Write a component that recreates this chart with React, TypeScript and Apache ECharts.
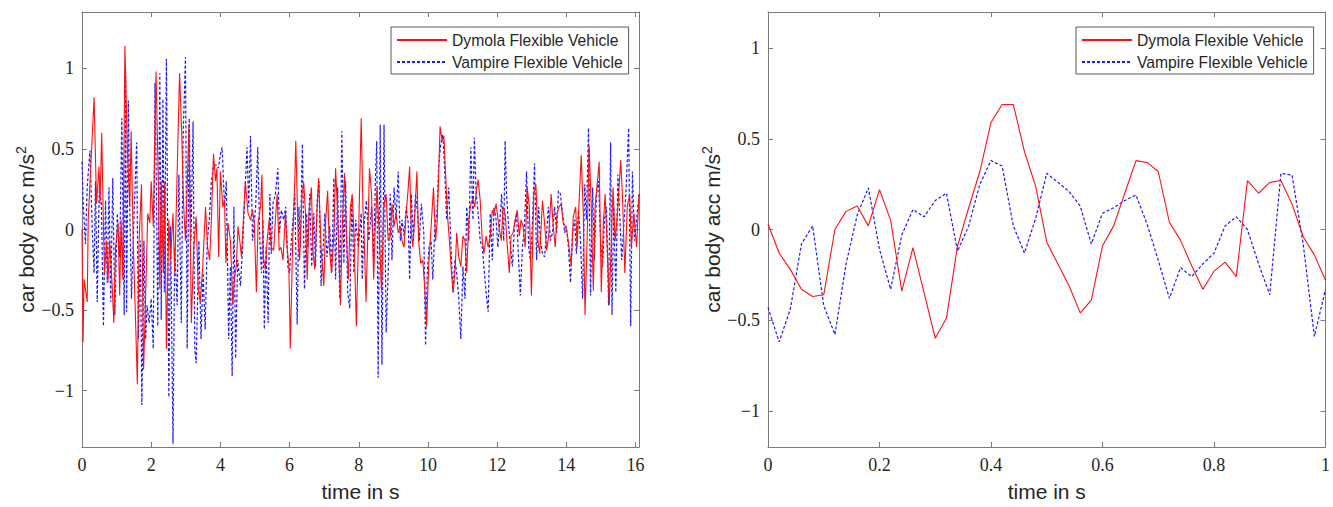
import React, { useEffect, useRef } from "react";
import * as echarts from "echarts";

// ---------- Data ----------
const seriesNames = ["Dymola Flexible Vehicle", "Vampire Flexible Vehicle"];
const xTitle = "time in s";
const yTitle = "car body acc m/s{sup|2}";

// Left panel: full run (time s, acceleration m/s^2)
const dymolaFull: [number, number][] = [
  [0, 0], [0.03, -0.7], [0.06, -0.31], [0.15, -0.45], [0.18, 0.06], [0.35, 0.82], [0.42, 0.16], [0.49, 0.39], [0.52, 0.16], [0.57, 0.6],
  [0.62, 0.02], [0.65, -0.27], [0.71, -0.07], [0.75, -0.33], [0.8, -0.07], [0.87, -0.34], [0.92, -0.58], [0.97, -0.11], [1.04, 0.04], [1.09, -0.41],
  [1.13, 0.06], [1.18, -0.31], [1.24, 1.14], [1.31, 0.51], [1.38, 0.14], [1.42, 0.61], [1.48, -0.07], [1.53, -0.43], [1.6, -0.96], [1.65, -0.07],
  [1.72, 0.28], [1.78, -0.87], [1.84, -0.41], [1.9, 0.1], [1.96, 0.04], [2.0, 0.3], [2.06, 0.02], [2.14, 0.98], [2.2, 0.36], [2.25, -0.37],
  [2.29, 0.3], [2.35, -0.27], [2.39, 0.3], [2.44, -0.74], [2.51, 0.06], [2.56, -0.19], [2.63, 0.1], [2.68, -0.27], [2.82, 0.97], [2.88, 0.61],
  [2.94, 0.14], [2.99, -0.07], [3.04, 0.26], [3.09, 0.65], [3.16, -0.58], [3.23, -0.11], [3.3, 0.08], [3.36, -0.37], [3.42, -0.45], [3.49, -0.23],
  [3.57, 0.14], [3.63, -0.11], [3.69, -0.19], [3.74, 0.06], [3.8, 0.47], [3.86, 0.3], [3.9, 0.38], [3.95, -0.17], [4.0, 0.36], [4.07, 0.14],
  [4.12, 0.18], [4.16, -0.21], [4.22, 0.04], [4.29, -0.07], [4.36, -0.47], [4.4, -0.31], [4.46, -0.23], [4.51, 0.02], [4.56, -0.07], [4.61, -0.17],
  [4.66, 0.04], [4.72, 0.3], [4.8, 0.1], [4.87, 0.06], [4.93, 0.12], [4.98, 0.04], [5.04, -0.39], [5.09, 0.04], [5.16, 0.14], [5.2, 0.34],
  [5.24, -0.17], [5.3, -0.25], [5.35, -0.07], [5.41, 0.06], [5.47, -0.11], [5.54, -0.13], [5.59, 0.06], [5.64, 0.22], [5.7, -0.13], [5.75, -0.11],
  [5.81, -0.19], [5.88, 0.1], [5.93, -0.11], [5.98, -0.23], [6.02, -0.74], [6.09, -0.07], [6.15, 0.3], [6.18, 0.55], [6.25, -0.07], [6.29, -0.19],
  [6.36, 0.22], [6.41, 0.29], [6.46, 0.1], [6.51, -0.31], [6.56, 0.1], [6.63, 0.26], [6.68, -0.15], [6.73, -0.25], [6.78, 0.06], [6.84, 0.32],
  [6.91, -0.11], [6.99, -0.35], [7.04, 0.04], [7.1, 0.24], [7.15, -0.11], [7.21, -0.27], [7.28, -0.04], [7.33, 0.38], [7.39, 0.1], [7.47, -0.47],
  [7.53, 0.06], [7.59, 0.35], [7.64, -0.02], [7.7, -0.31], [7.76, 0.14], [7.81, 0.22], [7.86, -0.02], [7.93, -0.6], [8.0, 0.02], [8.07, 0.69],
  [8.12, 0.14], [8.16, -0.07], [8.21, -0.45], [8.27, 0.04], [8.31, 0.38], [8.37, 0.22], [8.43, -0.31], [8.48, 0.04], [8.53, 0.26], [8.6, -0.07],
  [8.66, -0.39], [8.72, 0.14], [8.79, 0.22], [8.85, -0.07], [8.91, -0.04], [8.96, 0.16], [9.02, 0.02], [9.08, 0.1], [9.14, -0.02], [9.2, 0.02],
  [9.25, -0.07], [9.31, -0.11], [9.37, 0.1], [9.43, 0.26], [9.47, 0.39], [9.52, -0.02], [9.56, -0.11], [9.62, 0.1], [9.68, 0.36], [9.73, -0.07],
  [9.79, -0.21], [9.85, -0.19], [9.91, -0.37], [9.96, -0.6], [10.02, -0.23], [10.08, -0.02], [10.16, 0.26], [10.22, -0.07], [10.27, 0.06], [10.35, 0.64],
  [10.41, 0.55], [10.46, 0.58], [10.51, 0.34], [10.56, 0.1], [10.62, -0.07], [10.68, -0.27], [10.73, -0.39], [10.79, -0.23], [10.83, -0.02], [10.89, -0.17],
  [10.95, -0.23], [11.01, -0.04], [11.07, -0.07], [11.12, -0.27], [11.18, 0.06], [11.24, 0.16], [11.3, 0.19], [11.35, 0.14], [11.4, 0.24], [11.45, 0.31],
  [11.51, 0.18], [11.57, -0.07], [11.62, -0.15], [11.68, -0.04], [11.74, -0.11], [11.8, -0.04], [11.86, 0.12], [11.91, 0.1], [11.97, 0.16], [12.05, 0.02],
  [12.12, -0.07], [12.17, 0.14], [12.23, 0.1], [12.29, -0.09], [12.35, -0.27], [12.4, -0.04], [12.46, -0.02], [12.52, 0.06], [12.58, 0.12], [12.64, -0.04],
  [12.69, 0.06], [12.75, 0.02], [12.81, -0.11], [12.87, 0.26], [12.93, 0.14], [12.99, -0.41], [13.06, 0.22], [13.12, 0.28], [13.18, -0.07], [13.23, -0.15],
  [13.31, 0.18], [13.37, 0.04], [13.43, -0.13], [13.49, -0.04], [13.56, 0.22], [13.62, 0.02], [13.68, -0.11], [13.73, 0.1], [13.79, 0.14], [13.85, 0.16],
  [13.91, 0.04], [13.97, 0.02], [14.02, -0.02], [14.08, -0.11], [14.14, -0.23], [14.2, 0.08], [14.27, 0.14], [14.31, -0.11], [14.37, 0.18], [14.43, 0.46],
  [14.49, 0.1], [14.54, -0.53], [14.6, -0.07], [14.66, 0.52], [14.72, 0.14], [14.78, -0.38], [14.83, 0.14], [14.95, 0.42], [15.01, -0.39], [15.07, 0.04],
  [15.12, 0.22], [15.18, -0.11], [15.24, -0.47], [15.3, -0.07], [15.35, 0.26], [15.41, -0.07], [15.49, 0.14], [15.57, 0.43], [15.62, 0.22], [15.69, -0.27],
  [15.76, 0.14], [15.83, 0.22], [15.88, -0.11], [15.95, 0.1], [16.03, -0.11], [16.1, 0.22],
];

const vampireFull: [number, number][] = [
  [0, 0.42], [0.04, 0.14], [0.1, -0.09], [0.15, 0.26], [0.23, 0.49], [0.3, -0.02], [0.35, -0.27], [0.39, 0.3], [0.44, -0.45], [0.5, 0.26],
  [0.56, 0.16], [0.62, -0.6], [0.68, 0.18], [0.73, -0.33], [0.78, 0.26], [0.83, -0.45], [0.89, 0.32], [0.95, -0.53], [1.02, 0.1], [1.09, -0.17],
  [1.15, 0.69], [1.22, -0.53], [1.26, 0.98], [1.29, -0.51], [1.34, 0.8], [1.38, 0.14], [1.43, -0.43], [1.5, 0.06], [1.58, 0.54], [1.63, -0.68],
  [1.69, -0.07], [1.73, -1.09], [1.79, -0.07], [1.84, -0.68], [1.88, -0.47], [1.94, -0.58], [2.0, -0.43], [2.06, -0.74], [2.11, 0.91], [2.15, 0.28],
  [2.19, -0.6], [2.25, 0.97], [2.29, -0.56], [2.34, 0.81], [2.38, -0.39], [2.44, 1.06], [2.51, -1.04], [2.56, 0.02], [2.63, -1.33], [2.68, -0.11],
  [2.75, -0.47], [2.8, 0.34], [2.87, -0.58], [2.92, 0.55], [2.99, 1.07], [3.04, -0.74], [3.1, 0.69], [3.15, -0.07], [3.21, 0.67], [3.26, -0.74],
  [3.3, -0.83], [3.38, -0.07], [3.44, -0.68], [3.5, -0.27], [3.56, -0.62], [3.62, -0.07], [3.68, 0.06], [3.74, 0.3], [3.81, 0.4], [3.88, 0.4],
  [3.94, 0.38], [4.02, 0.49], [4.05, 0.51], [4.12, 0.14], [4.17, 0.3], [4.24, -0.68], [4.29, -0.23], [4.34, -0.91], [4.39, 0.14], [4.44, -0.8],
  [4.5, -0.19], [4.58, -0.35], [4.65, -0.07], [4.7, 0.18], [4.77, 0.51], [4.82, 0.14], [4.87, 0.58], [4.93, -0.07], [5.02, 0.14], [5.08, 0.51],
  [5.14, -0.07], [5.19, -0.27], [5.23, 0.06], [5.27, -0.62], [5.32, -0.11], [5.38, -0.58], [5.43, 0.22], [5.47, -0.15], [5.52, 0.16], [5.59, 0.22],
  [5.66, 0.38], [5.71, -0.02], [5.76, 0.12], [5.83, 0.06], [5.89, 0.14], [5.95, -0.23], [6.0, -0.27], [6.05, -0.07], [6.1, 0.06], [6.15, 0.22],
  [6.22, -0.59], [6.27, 0.14], [6.31, -0.11], [6.37, 0.53], [6.43, -0.37], [6.49, 0.1], [6.53, -0.11], [6.58, 0.22], [6.64, -0.23], [6.7, 0.1],
  [6.75, -0.23], [6.8, 0.2], [6.85, 0.3], [6.91, -0.35], [6.97, -0.11], [7.02, 0.1], [7.08, -0.17], [7.16, 0.02], [7.22, -0.27], [7.28, 0.32],
  [7.33, -0.31], [7.39, 0.26], [7.45, -0.43], [7.51, 0.61], [7.57, -0.21], [7.62, 0.3], [7.68, -0.39], [7.74, -0.49], [7.8, 0.18], [7.86, -0.27],
  [7.91, 0.06], [7.99, -0.11], [8.07, 0.1], [8.1, -0.31], [8.15, 0.02], [8.22, 0.18], [8.29, -0.07], [8.37, 0.14], [8.43, -0.19], [8.48, 0.3],
  [8.52, 0.55], [8.56, -0.92], [8.62, 0.65], [8.67, -0.84], [8.73, 0.65], [8.79, -0.64], [8.85, -0.27], [8.91, 0.22], [8.96, -0.19], [9.02, 0.26],
  [9.08, 0.06], [9.14, 0.36], [9.2, -0.07], [9.25, 0.06], [9.31, -0.04], [9.37, 0.14], [9.43, 0.04], [9.47, -0.31], [9.52, 0.22], [9.58, -0.07],
  [9.64, 0.22], [9.7, 0.1], [9.75, -0.07], [9.81, 0.16], [9.88, -0.02], [9.93, -0.72], [9.98, -0.27], [10.03, -0.11], [10.09, -0.07], [10.14, -0.31],
  [10.2, 0.02], [10.26, 0.1], [10.31, 0.4], [10.37, 0.53], [10.43, 0.59], [10.49, 0.34], [10.54, 0.06], [10.6, 0.26], [10.66, -0.07], [10.72, -0.39],
  [10.78, -0.19], [10.83, -0.27], [10.89, -0.43], [10.95, -0.68], [11.01, -0.23], [11.07, -0.43], [11.12, 0.14], [11.18, -0.07], [11.24, 0.51], [11.3, 0.06],
  [11.34, 0.57], [11.39, 0.24], [11.45, 0.1], [11.51, -0.07], [11.57, -0.11], [11.68, -0.39], [11.74, -0.51], [11.8, 0.1], [11.86, -0.19], [11.91, 0.14],
  [11.97, 0.06], [12.02, -0.11], [12.08, 0.06], [12.13, 0.22], [12.19, -0.07], [12.23, 0.55], [12.27, 0.22], [12.33, 0.02], [12.39, -0.11], [12.44, -0.23],
  [12.5, 0.02], [12.56, 0.1], [12.62, -0.19], [12.67, -0.41], [12.73, -0.11], [12.79, 0.02], [12.85, 0.36], [12.91, -0.11], [12.96, -0.19], [13.02, 0.04],
  [13.08, 0.41], [13.14, -0.19], [13.2, 0.14], [13.25, -0.07], [13.31, -0.15], [13.37, -0.17], [13.43, -0.02], [13.48, 0.14], [13.54, -0.07], [13.6, -0.02],
  [13.66, 0.14], [13.72, -0.02], [13.77, 0.24], [13.83, 0.22], [13.89, 0.1], [13.95, -0.02], [14.0, 0.02], [14.06, -0.11], [14.12, -0.33], [14.18, -0.02],
  [14.24, 0.06], [14.29, -0.15], [14.35, 0.12], [14.41, -0.07], [14.47, -0.43], [14.53, 0.28], [14.58, 0.06], [14.64, 0.63], [14.7, -0.41], [14.76, 0.26],
  [14.81, -0.19], [14.87, 0.22], [14.93, 0.3], [14.99, -0.07], [15.05, -0.23], [15.1, 0.06], [15.16, 0.14], [15.22, -0.47], [15.28, 0.54], [15.32, -0.53],
  [15.37, 0.14], [15.43, -0.39], [15.49, 0.34], [15.55, 0.06], [15.6, -0.19], [15.66, 0.02], [15.72, 0.22], [15.8, 0.63], [15.86, -0.6], [15.91, 0.36],
  [15.97, -0.07], [16.03, 0.06], [16.1, 0.22],
];

// Right panel: first second
const zoomTime = [
  0, 0.02, 0.04, 0.06, 0.08, 0.1, 0.12, 0.14, 0.16, 0.18, 0.2, 0.22, 0.24, 0.26, 0.28, 0.3, 0.32, 0.34, 0.36, 0.38,
  0.4, 0.42, 0.44, 0.46, 0.48, 0.5, 0.52, 0.54, 0.56, 0.58, 0.6, 0.62, 0.64, 0.66, 0.68, 0.7, 0.72, 0.74, 0.76, 0.78,
  0.8, 0.82, 0.84, 0.86, 0.88, 0.9, 0.92, 0.94, 0.96, 0.98, 1.0,
];
const dymolaZoom = [
  0.03, -0.13, -0.22, -0.33, -0.37, -0.36, 0.0, 0.1, 0.13, 0.02, 0.22, 0.05, -0.34, -0.1, -0.35, -0.6, -0.49, -0.09, 0.12, 0.32,
  0.59, 0.69, 0.69, 0.43, 0.24, -0.07, -0.19, -0.31, -0.46, -0.39, -0.09, 0.02, 0.2, 0.38, 0.37, 0.32, 0.04, -0.06, -0.2, -0.33,
  -0.23, -0.18, -0.26, 0.27, 0.2, 0.26, 0.27, 0.14, -0.04, -0.14, -0.28,
];
const vampireZoom = [
  -0.43, -0.62, -0.44, -0.08, 0.02, -0.42, -0.58, -0.19, 0.08, 0.23, -0.11, -0.33, -0.03, 0.11, 0.07, 0.16, 0.2, -0.12, 0.02, 0.25,
  0.38, 0.35, 0.02, -0.13, 0.06, 0.31, 0.26, 0.21, 0.13, -0.08, 0.09, 0.12, 0.16, 0.19, 0.03, -0.17, -0.38, -0.21, -0.26, -0.19,
  -0.13, 0.02, 0.07, 0.0, -0.19, -0.36, 0.31, 0.3, -0.08, -0.59, -0.33,
];

const leftXTicks = [0, 2, 4, 6, 8, 10, 12, 14, 16];
const rightXTicks = [0, 0.2, 0.4, 0.6, 0.8, 1];
const yTicks = [-1, -0.5, 0, 0.5, 1];

// ---------- Styling ----------
const frameColor = "#7a7a7a";
const textColor = "#262626";
const tickFont = "'Liberation Serif', 'DejaVu Serif', serif";
const sansFont = "'Liberation Sans', Arial, Helvetica, sans-serif";

const fmt = (v: number) => (v < 0 ? "\u2212" + String(Math.abs(v)) : String(v));

function mainAxis(gridIndex: number, min: number, max: number, ticks: number[], isX: boolean, name: string) {
  return {
    type: "value",
    gridIndex,
    min,
    max,
    position: isX ? "bottom" : "left",
    name,
    nameLocation: "middle",
    nameGap: isX ? 34 : 36,
    nameRotate: isX ? 0 : 90,
    nameTextStyle: {
      fontFamily: sansFont,
      fontSize: 21,
      color: textColor,
      rich: { sup: { fontFamily: sansFont, fontSize: 14, color: textColor, padding: [0, 0, 12, 0] } },
    },
    axisLine: { show: true, onZero: false, lineStyle: { color: frameColor, width: 1 } },
    axisTick: { show: true, inside: true, length: 5, customValues: ticks, lineStyle: { color: frameColor } },
    axisLabel: {
      show: true,
      customValues: ticks,
      formatter: fmt,
      fontFamily: tickFont,
      fontSize: 18,
      color: textColor,
      margin: isX ? 9 : 8,
    },
    splitLine: { show: false },
  };
}

function mirrorAxis(gridIndex: number, min: number, max: number, ticks: number[], isX: boolean) {
  return {
    type: "value",
    gridIndex,
    min,
    max,
    position: isX ? "top" : "right",
    axisLine: { show: true, onZero: false, lineStyle: { color: frameColor, width: 1 } },
    axisTick: { show: true, inside: true, length: 5, customValues: ticks, lineStyle: { color: frameColor } },
    axisLabel: { show: false },
    splitLine: { show: false },
  };
}

function legendAt(left: number) {
  return {
    left,
    top: 27,
    orient: "vertical",
    data: seriesNames,
    backgroundColor: "#ffffff",
    borderColor: "#5a5a5a",
    borderWidth: 1,
    borderRadius: 0,
    padding: [5, 6, 4, 5],
    itemGap: 6,
    itemWidth: 50,
    itemHeight: 16,
    selectedMode: false,
    itemStyle: { opacity: 0 },
    textStyle: { fontFamily: sansFont, fontSize: 15.7, color: textColor },
  };
}

const redLine = { color: "#ff1010", width: 1.1, type: "solid" };
const blueLine = { color: "#1a1aff", width: 1.2, type: [3, 2] };

export default function App() {
  const ref = useRef<HTMLDivElement>(null);

  useEffect(() => {
    if (!ref.current) return;
    const chart = echarts.init(ref.current, undefined, { renderer: "svg" });
    const zoomD = zoomTime.map((t, i) => [t, dymolaZoom[i]]);
    const zoomV = zoomTime.map((t, i) => [t, vampireZoom[i]]);

    chart.setOption({
      animation: false,
      backgroundColor: "#ffffff",
      grid: [
        { left: 82, top: 12, width: 557, height: 441, containLabel: false },
        { left: 768, top: 12, width: 558, height: 441, containLabel: false },
      ],
      xAxis: [
        mainAxis(0, 0, 16.1, leftXTicks, true, xTitle),
        mirrorAxis(0, 0, 16.1, leftXTicks, true),
        mainAxis(1, 0, 1, rightXTicks, true, xTitle),
        mirrorAxis(1, 0, 1, rightXTicks, true),
      ],
      yAxis: [
        mainAxis(0, -1.35, 1.35, yTicks, false, yTitle),
        mirrorAxis(0, -1.35, 1.35, yTicks, false),
        mainAxis(1, -1.2, 1.2, yTicks, false, yTitle),
        mirrorAxis(1, -1.2, 1.2, yTicks, false),
      ],
      legend: [legendAt(391), legendAt(1076)],
      series: [
        {
          name: seriesNames[0], type: "line", xAxisIndex: 0, yAxisIndex: 0, data: dymolaFull,
          symbol: "none", lineStyle: redLine, itemStyle: { color: redLine.color }, z: 3,
        },
        {
          name: seriesNames[1], type: "line", xAxisIndex: 0, yAxisIndex: 0, data: vampireFull,
          symbol: "none", lineStyle: blueLine, itemStyle: { color: blueLine.color }, z: 2,
        },
        {
          name: seriesNames[0], type: "line", xAxisIndex: 2, yAxisIndex: 2, data: zoomD,
          symbol: "none", lineStyle: redLine, itemStyle: { color: redLine.color }, z: 3,
        },
        {
          name: seriesNames[1], type: "line", xAxisIndex: 2, yAxisIndex: 2, data: zoomV,
          symbol: "none", lineStyle: blueLine, itemStyle: { color: blueLine.color }, z: 2,
        },
      ],
    });
    return () => chart.dispose();
  }, []);

  return (
    <div
      ref={ref}
      style={{ position: "absolute", left: 0, top: 0, width: 1333, height: 507, background: "#ffffff" }}
    />
  );
}
